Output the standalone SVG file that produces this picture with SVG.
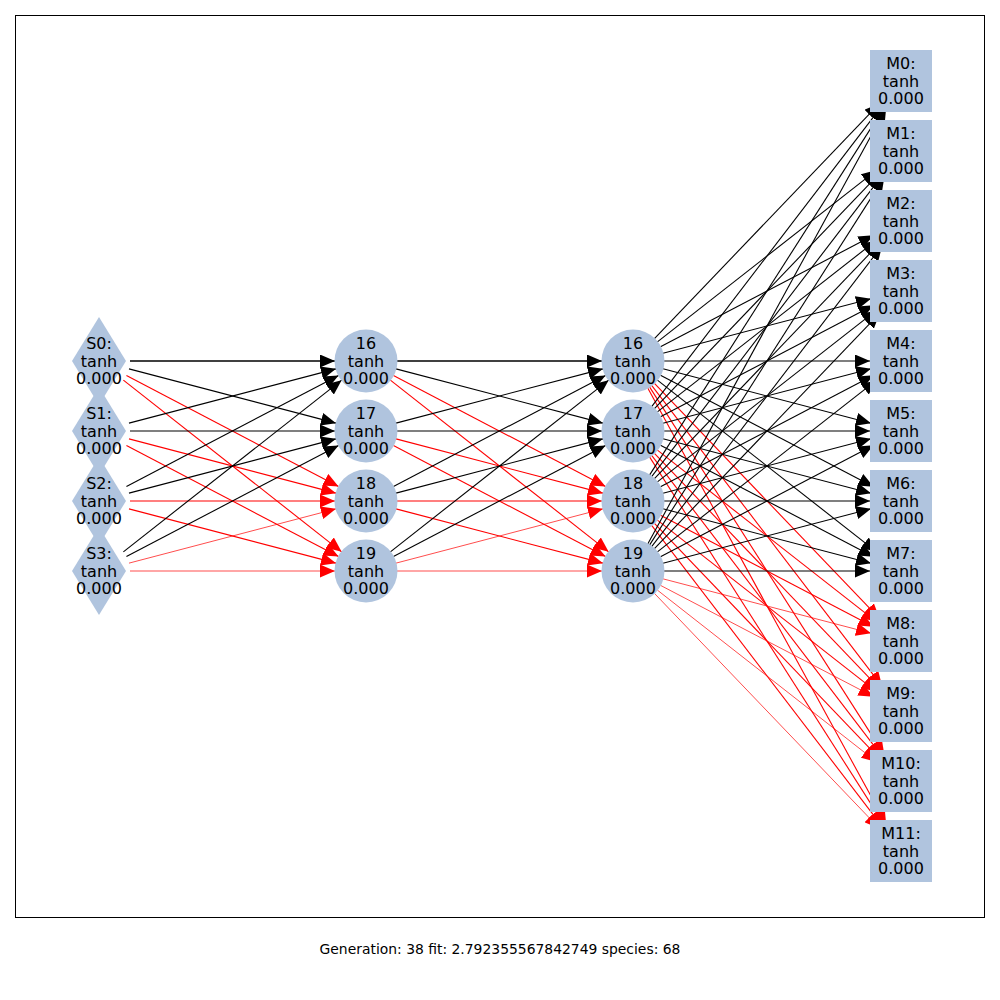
<svg xmlns="http://www.w3.org/2000/svg" width="1000" height="1000" viewBox="0 0 1000 1000">
<style>
.e{fill:none;stroke-linecap:butt}
.b{stroke:#000;stroke-width:1.1;marker-end:url(#ab)}
.r{stroke:#f00;stroke-width:1.1;marker-end:url(#ar)}
.t{stroke-width:0.7}
.n{fill:#b0c4de}
.l{font-family:"DejaVu Sans",sans-serif;font-size:16px;fill:#000;text-anchor:middle}
.cap{font-family:"DejaVu Sans",sans-serif;font-size:13.9px;fill:#000;text-anchor:middle}
</style>
<defs>
<marker id="ab" markerUnits="userSpaceOnUse" markerWidth="15" markerHeight="13" viewBox="0 0 15 13" refX="15" refY="6.5" orient="auto"><path d="M0,0 L15,6.5 L0,13 z" fill="#000"/></marker>
<marker id="ar" markerUnits="userSpaceOnUse" markerWidth="15" markerHeight="13" viewBox="0 0 15 13" refX="15" refY="6.5" orient="auto"><path d="M0,0 L15,6.5 L0,13 z" fill="#f00"/></marker>
</defs>
<rect x="0" y="0" width="1000" height="1000" fill="#fff"/>
<rect x="15.5" y="15.5" width="969" height="902" fill="none" stroke="#000" stroke-width="1"/>
<g id="connectors">
<!-- inputs to layer 1 -->
<path class="e b" style="stroke-width:1.3" d="M130,361 L335,361"/>
<path class="e b" d="M128.99,368.86 L336.01,423.14"/>
<path class="e r" d="M126.45,375.40 L338.55,486.60"/>
<path class="e r" d="M123.37,380.16 L341.63,551.84"/>
<path class="e b" d="M128.99,423.14 L336.01,368.86"/>
<path class="e b" d="M130,431 L335,431"/>
<path class="e r" d="M128.99,438.86 L336.01,493.14"/>
<path class="e r" d="M126.45,445.40 L338.55,556.60"/>
<path class="e b" d="M126.45,486.60 L338.55,375.40"/>
<path class="e b" d="M128.99,493.14 L336.01,438.86"/>
<path class="e r" d="M130,501 L335,501"/>
<path class="e r" d="M128.99,508.86 L336.01,563.14"/>
<path class="e b" d="M123.37,551.84 L341.63,380.16"/>
<path class="e b" d="M126.45,556.60 L338.55,445.40"/>
<path class="e r t" d="M128.99,563.14 L336.01,508.86"/>
<path class="e r t" d="M130,571 L335,571"/>
<!-- layer 1 to layer 2 -->
<path class="e b" style="stroke-width:1.3" d="M397,361 L602,361"/>
<path class="e b" d="M395.99,368.86 L603.01,423.14"/>
<path class="e r" d="M393.45,375.40 L605.55,486.60"/>
<path class="e r" d="M390.37,380.16 L608.63,551.84"/>
<path class="e b" d="M395.99,423.14 L603.01,368.86"/>
<path class="e b" d="M397,431 L602,431"/>
<path class="e r" d="M395.99,438.86 L603.01,493.14"/>
<path class="e r" d="M393.45,445.40 L605.55,556.60"/>
<path class="e b" d="M393.45,486.60 L605.55,375.40"/>
<path class="e b" d="M395.99,493.14 L603.01,438.86"/>
<path class="e r" d="M397,501 L602,501"/>
<path class="e r" d="M395.99,508.86 L603.01,563.14"/>
<path class="e b" d="M390.37,551.84 L608.63,380.16"/>
<path class="e b" d="M393.45,556.60 L605.55,445.40"/>
<path class="e r t" d="M395.99,563.14 L603.01,508.86"/>
<path class="e r t" d="M397,571 L602,571"/>
<!-- layer 2 to outputs: from 16 -->
<path class="e b" d="M654.44,338.61 L879.56,103.39"/>
<path class="e b" d="M657.40,341.88 L876.60,170.12"/>
<path class="e b" d="M660.48,346.65 L873.52,235.35"/>
<path class="e b" d="M662.99,353.17 L871.01,298.83"/>
<path class="e b" d="M664,361 L870,361"/>
<path class="e b" d="M662.99,368.83 L871.01,423.17"/>
<path class="e b" d="M660.48,375.35 L873.52,486.65"/>
<path class="e b" d="M657.40,380.12 L876.60,551.88"/>
<path class="e r" d="M654.44,383.39 L879.56,618.61"/>
<path class="e r" d="M651.85,385.61 L882.15,686.39"/>
<path class="e r" d="M649.68,387.13 L884.32,754.87"/>
<path class="e r" d="M647.88,388.20 L886.12,823.80"/>
<!-- from 17 -->
<path class="e b" d="M651.85,406.39 L882.15,105.61"/>
<path class="e b" d="M654.44,408.61 L879.56,173.39"/>
<path class="e b" d="M657.40,411.88 L876.60,240.12"/>
<path class="e b" d="M660.48,416.65 L873.52,305.35"/>
<path class="e b" d="M662.99,423.17 L871.01,368.83"/>
<path class="e b" d="M664,431 L870,431"/>
<path class="e b" d="M662.99,438.83 L871.01,493.17"/>
<path class="e b" d="M660.48,445.35 L873.52,556.65"/>
<path class="e r" d="M657.40,450.12 L876.60,621.88"/>
<path class="e r" d="M654.44,453.39 L879.56,688.61"/>
<path class="e r" d="M651.85,455.61 L882.15,756.39"/>
<path class="e r" d="M649.68,457.13 L884.32,824.87"/>
<!-- from 18 -->
<path class="e b" d="M649.68,474.87 L884.32,107.13"/>
<path class="e b" d="M651.85,476.39 L882.15,175.61"/>
<path class="e b" d="M654.44,478.61 L879.56,243.39"/>
<path class="e b" d="M657.40,481.88 L876.60,310.12"/>
<path class="e b" d="M660.48,486.65 L873.52,375.35"/>
<path class="e b" d="M662.99,493.17 L871.01,438.83"/>
<path class="e b" d="M664,501 L870,501"/>
<path class="e b" d="M662.99,508.83 L871.01,563.17"/>
<path class="e r" d="M660.48,515.35 L873.52,626.65"/>
<path class="e r" d="M657.40,520.12 L876.60,691.88"/>
<path class="e r" d="M654.44,523.39 L879.56,758.61"/>
<path class="e r" d="M651.85,525.61 L882.15,826.39"/>
<!-- from 19 -->
<path class="e b" d="M647.88,543.80 L886.12,108.20"/>
<path class="e b" d="M649.68,544.87 L884.32,177.13"/>
<path class="e b" d="M651.85,546.39 L882.15,245.61"/>
<path class="e b" d="M654.44,548.61 L879.56,313.39"/>
<path class="e b" d="M657.40,551.88 L876.60,380.12"/>
<path class="e b" d="M660.48,556.65 L873.52,445.35"/>
<path class="e b" d="M662.99,563.17 L871.01,508.83"/>
<path class="e b" d="M664,571 L870,571"/>
<path class="e r t" d="M662.99,578.83 L871.01,633.17"/>
<path class="e r t" d="M660.48,585.35 L873.52,696.65"/>
<path class="e r t" d="M657.40,590.12 L876.60,761.88"/>
<path class="e r t" d="M654.44,593.39 L879.56,828.61"/>
</g>
<g id="S0"><polygon class="n" points="99,317 126,361 99,405 72,361"/><text class="l" x="99" y="349">S0:<tspan x="99" dy="17.5">tanh</tspan><tspan x="99" dy="17.5">0.000</tspan></text></g>
<g id="S1"><polygon class="n" points="99,387 126,431 99,475 72,431"/><text class="l" x="99" y="419">S1:<tspan x="99" dy="17.5">tanh</tspan><tspan x="99" dy="17.5">0.000</tspan></text></g>
<g id="S2"><polygon class="n" points="99,457 126,501 99,545 72,501"/><text class="l" x="99" y="489">S2:<tspan x="99" dy="17.5">tanh</tspan><tspan x="99" dy="17.5">0.000</tspan></text></g>
<g id="S3"><polygon class="n" points="99,527 126,571 99,615 72,571"/><text class="l" x="99" y="559">S3:<tspan x="99" dy="17.5">tanh</tspan><tspan x="99" dy="17.5">0.000</tspan></text></g>
<g id="H1_16"><circle class="n" cx="366" cy="361" r="31.5"/><text class="l" x="366" y="349">16<tspan x="366" dy="17.5">tanh</tspan><tspan x="366" dy="17.5">0.000</tspan></text></g>
<g id="H1_17"><circle class="n" cx="366" cy="431" r="31.5"/><text class="l" x="366" y="419">17<tspan x="366" dy="17.5">tanh</tspan><tspan x="366" dy="17.5">0.000</tspan></text></g>
<g id="H1_18"><circle class="n" cx="366" cy="501" r="31.5"/><text class="l" x="366" y="489">18<tspan x="366" dy="17.5">tanh</tspan><tspan x="366" dy="17.5">0.000</tspan></text></g>
<g id="H1_19"><circle class="n" cx="366" cy="571" r="31.5"/><text class="l" x="366" y="559">19<tspan x="366" dy="17.5">tanh</tspan><tspan x="366" dy="17.5">0.000</tspan></text></g>
<g id="H2_16"><circle class="n" cx="633" cy="361" r="31.5"/><text class="l" x="633" y="349">16<tspan x="633" dy="17.5">tanh</tspan><tspan x="633" dy="17.5">0.000</tspan></text></g>
<g id="H2_17"><circle class="n" cx="633" cy="431" r="31.5"/><text class="l" x="633" y="419">17<tspan x="633" dy="17.5">tanh</tspan><tspan x="633" dy="17.5">0.000</tspan></text></g>
<g id="H2_18"><circle class="n" cx="633" cy="501" r="31.5"/><text class="l" x="633" y="489">18<tspan x="633" dy="17.5">tanh</tspan><tspan x="633" dy="17.5">0.000</tspan></text></g>
<g id="H2_19"><circle class="n" cx="633" cy="571" r="31.5"/><text class="l" x="633" y="559">19<tspan x="633" dy="17.5">tanh</tspan><tspan x="633" dy="17.5">0.000</tspan></text></g>
<g id="M0"><rect class="n" x="870" y="50" width="62" height="62"/><text class="l" x="901" y="69">M0:<tspan x="901" dy="17.5">tanh</tspan><tspan x="901" dy="17.5">0.000</tspan></text></g>
<g id="M1"><rect class="n" x="870" y="120" width="62" height="62"/><text class="l" x="901" y="139">M1:<tspan x="901" dy="17.5">tanh</tspan><tspan x="901" dy="17.5">0.000</tspan></text></g>
<g id="M2"><rect class="n" x="870" y="190" width="62" height="62"/><text class="l" x="901" y="209">M2:<tspan x="901" dy="17.5">tanh</tspan><tspan x="901" dy="17.5">0.000</tspan></text></g>
<g id="M3"><rect class="n" x="870" y="260" width="62" height="62"/><text class="l" x="901" y="279">M3:<tspan x="901" dy="17.5">tanh</tspan><tspan x="901" dy="17.5">0.000</tspan></text></g>
<g id="M4"><rect class="n" x="870" y="330" width="62" height="62"/><text class="l" x="901" y="349">M4:<tspan x="901" dy="17.5">tanh</tspan><tspan x="901" dy="17.5">0.000</tspan></text></g>
<g id="M5"><rect class="n" x="870" y="400" width="62" height="62"/><text class="l" x="901" y="419">M5:<tspan x="901" dy="17.5">tanh</tspan><tspan x="901" dy="17.5">0.000</tspan></text></g>
<g id="M6"><rect class="n" x="870" y="470" width="62" height="62"/><text class="l" x="901" y="489">M6:<tspan x="901" dy="17.5">tanh</tspan><tspan x="901" dy="17.5">0.000</tspan></text></g>
<g id="M7"><rect class="n" x="870" y="540" width="62" height="62"/><text class="l" x="901" y="559">M7:<tspan x="901" dy="17.5">tanh</tspan><tspan x="901" dy="17.5">0.000</tspan></text></g>
<g id="M8"><rect class="n" x="870" y="610" width="62" height="62"/><text class="l" x="901" y="629">M8:<tspan x="901" dy="17.5">tanh</tspan><tspan x="901" dy="17.5">0.000</tspan></text></g>
<g id="M9"><rect class="n" x="870" y="680" width="62" height="62"/><text class="l" x="901" y="699">M9:<tspan x="901" dy="17.5">tanh</tspan><tspan x="901" dy="17.5">0.000</tspan></text></g>
<g id="M10"><rect class="n" x="870" y="750" width="62" height="62"/><text class="l" x="901" y="769">M10:<tspan x="901" dy="17.5">tanh</tspan><tspan x="901" dy="17.5">0.000</tspan></text></g>
<g id="M11"><rect class="n" x="870" y="820" width="62" height="62"/><text class="l" x="901" y="839">M11:<tspan x="901" dy="17.5">tanh</tspan><tspan x="901" dy="17.5">0.000</tspan></text></g>
<text class="cap" x="500" y="954">Generation: 38 fit: 2.792355567842749 species: 68</text>
</svg>
